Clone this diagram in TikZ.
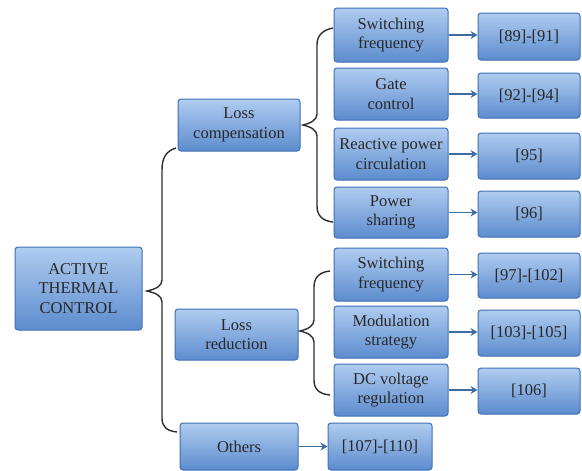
\documentclass[tikz,border=0pt]{standalone}
\usepackage{fontspec}
\setmainfont{Liberation Serif}
\newfontfamily\boxfont{Liberation Serif}
\usetikzlibrary{arrows.meta}
\definecolor{boxedge}{RGB}{62,112,180}
\definecolor{boxtop}{RGB}{176,204,240}
\definecolor{boxmid}{RGB}{120,164,222}
\definecolor{boxbot}{RGB}{92,140,206}
\definecolor{arrcol}{RGB}{62,108,160}
\definecolor{txtcol}{RGB}{40,40,40}
\definecolor{bracecol}{RGB}{45,45,45}
\tikzset{
  box/.style={draw=boxedge, line width=1pt, rounded corners=3pt, top color=boxtop, middle color=boxmid, bottom color=boxbot,
    align=center, inner sep=0pt, text=txtcol, font=\boxfont\fontsize{16.5}{19.5}\selectfont},
  arr/.style={draw=arrcol, line width=1.6pt, -{Stealth[length=7pt,width=8pt]}},
  brace/.style={draw=bracecol, line width=1.4pt}
}
\newcommand{\bx}[6]{\node[box, minimum width={#4-#2}, minimum height={#5-#3}] (#1) at ({(#2+#4)/2},{(#3+#5)/2}) {#6};}
\begin{document}
\begin{tikzpicture}[x=1pt,y=-1pt]
\useasboundingbox (0,0) rectangle (582,471);
\bx{atc}{15}{247}{142}{330}{ACTIVE\\THERMAL\\CONTROL}
\bx{lc}{178}{99}{300}{151}{Loss\\compensation}
\bx{lr}{175}{309}{298}{360}{Loss\\reduction}
\bx{oth}{180}{423}{298}{470}{Others}
\bx{sw1}{334}{8}{448}{62}{Switching\\frequency}
\bx{gc}{334}{68}{448}{120}{Gate\\control}
\bx{rp}{334}{128}{448}{180}{Reactive power\\circulation}
\bx{ps}{334}{187}{448}{238}{Power\\sharing}
\bx{sw2}{334}{248}{448}{301}{Switching\\frequency}
\bx{ms}{334}{306}{448}{358}{Modulation\\strategy}
\bx{dc}{334}{364}{448}{416}{DC voltage\\regulation}
\bx{r1}{478}{13}{580}{60}{[89]-[91]}
\bx{r2}{478}{73}{580}{118}{[92]-[94]}
\bx{r3}{478}{133}{580}{179}{[95]}
\bx{r4}{478}{191}{580}{237}{[96]}
\bx{r5}{478}{253}{580}{298}{[97]-[102]}
\bx{r6}{478}{310}{580}{356}{[103]-[105]}
\bx{r7}{478}{368}{580}{414}{[106]}
\bx{r8}{328}{423}{432}{470}{[107]-[110]}
% braces
\draw[brace] (176,148) .. controls (166,151) and (162,158) .. (162,170) -- (162,280)
  .. controls (162,286) and (156,289) .. (147,291) .. controls (156,293) and (162,296) .. (162,302)
  -- (162,418) .. controls (162,427) and (167,431) .. (177,432);
\draw[brace] (333,28) .. controls (323,30) and (317,35) .. (317,45) -- (317,114)
  .. controls (317,120) and (311,123) .. (303,125) .. controls (311,127) and (317,130) .. (317,136)
  -- (317,206) .. controls (317,216) and (323,221) .. (333,222);
\draw[brace] (330,271) .. controls (320,272) and (314,277) .. (314,287) -- (314,320)
  .. controls (314,326) and (308,329) .. (300,331) .. controls (308,333) and (314,336) .. (314,342)
  -- (314,380) .. controls (314,390) and (320,394) .. (330,395);
% arrows
\foreach \s/\t in {sw1/r1, gc/r2, rp/r3, ps/r4, sw2/r5, ms/r6, dc/r7, oth/r8}
  \draw[arr] (\s.east) -- (\s.east -| \t.west);
\end{tikzpicture}
\end{document}
